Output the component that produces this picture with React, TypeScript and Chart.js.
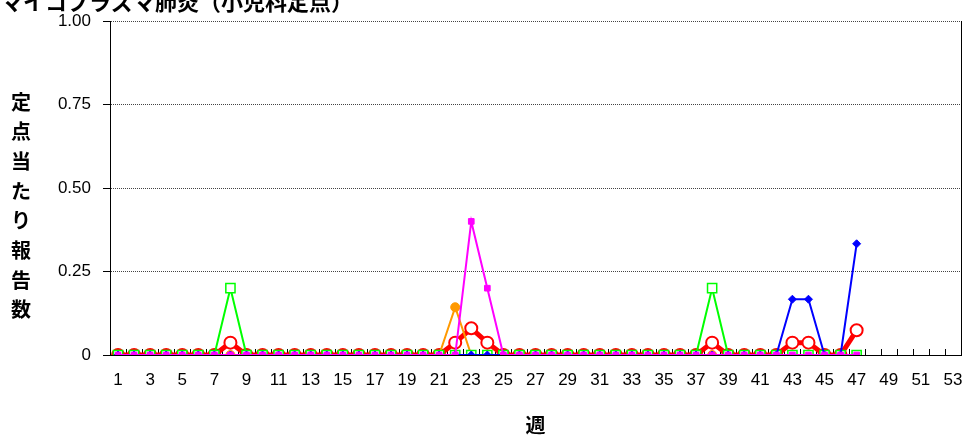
import React, { useEffect, useRef } from 'react';
import { Chart, registerables } from 'chart.js';
Chart.register(...registerables);

const chartTitle = 'マイコプラズマ肺炎（小児科定点）';
const yTitleChars = ['定', '点', '当', 'た', 'り', '報', '告', '数'];
const xTitle = '週';

const weeks = [
  '1', '2', '3', '4', '5', '6', '7', '8', '9', '10',
  '11', '12', '13', '14', '15', '16', '17', '18', '19', '20',
  '21', '22', '23', '24', '25', '26', '27', '28', '29', '30',
  '31', '32', '33', '34', '35', '36', '37', '38', '39', '40',
  '41', '42', '43', '44', '45', '46', '47', '48', '49', '50',
  '51', '52', '53',
];

const yTicks = [0, 0.25, 0.5, 0.75, 1];

// weeks 1..47
const redSeries = [
  0, 0, 0, 0, 0, 0, 0, 0.037, 0, 0,
  0, 0, 0, 0, 0, 0, 0, 0, 0, 0,
  0, 0.037, 0.08, 0.037, 0, 0, 0, 0, 0, 0,
  0, 0, 0, 0, 0, 0, 0, 0.037, 0, 0,
  0, 0, 0.037, 0.037, 0, 0, 0.074,
];
const greenSeries = [
  0, 0, 0, 0, 0, 0, 0, 0.2, 0, 0,
  0, 0, 0, 0, 0, 0, 0, 0, 0, 0,
  0, 0, 0, 0, 0, 0, 0, 0, 0, 0,
  0, 0, 0, 0, 0, 0, 0, 0.2, 0, 0,
  0, 0, 0, 0, 0, 0, 0,
];
const orangeSeries = [
  0, 0, 0, 0, 0, 0, 0, 0, 0, 0,
  0, 0, 0, 0, 0, 0, 0, 0, 0, 0,
  0, 0.143, 0, 0, 0, 0, 0, 0, 0, 0,
  0, 0, 0, 0, 0, 0, 0, 0, 0, 0,
  0, 0, 0, 0, 0, 0, 0,
];
const magentaSeries = [
  0, 0, 0, 0, 0, 0, 0, 0, 0, 0,
  0, 0, 0, 0, 0, 0, 0, 0, 0, 0,
  0, 0, 0.4, 0.2, 0, 0, 0, 0, 0, 0,
  0, 0, 0, 0, 0, 0, 0, 0, 0, 0,
  0, 0, 0, 0, 0, 0, 0,
];
const blueSeries = [
  0, 0, 0, 0, 0, 0, 0, 0, 0, 0,
  0, 0, 0, 0, 0, 0, 0, 0, 0, 0,
  0, 0, 0, 0, 0, 0, 0, 0, 0, 0,
  0, 0, 0, 0, 0, 0, 0, 0, 0, 0,
  0, 0, 0.167, 0.167, 0, 0, 0.333,
];

const JP = '"Noto Sans CJK JP", sans-serif';
const NUM = '"Liberation Sans", Arial, sans-serif';

const decor = {
  id: 'decor',
  beforeDatasetsDraw(chart: any) {
    const { ctx, chartArea: a, scales } = chart;
    const x = scales.x;
    ctx.save();
    ctx.strokeStyle = '#000';
    ctx.lineWidth = 1;
    ctx.setLineDash([]);
    ctx.beginPath();
    for (let i = 0; i <= weeks.length; i++) {
      const px = Math.round(x.getPixelForValue(i - 0.5)) + 0.5;
      ctx.moveTo(px, a.bottom);
      ctx.lineTo(px, a.bottom - 6);
    }
    const r = Math.round(a.right) + 0.5;
    ctx.moveTo(r, a.top);
    ctx.lineTo(r, a.bottom);
    ctx.stroke();
    ctx.restore();
  },
  afterDraw(chart: any) {
    const { ctx, chartArea: a } = chart;
    ctx.save();
    ctx.fillStyle = '#000';
    ctx.font = 'bold 22px ' + JP;
    ctx.textAlign = 'left';
    ctx.textBaseline = 'alphabetic';
    ctx.fillText(chartTitle, 1, 10);

    ctx.font = 'bold 20px ' + JP;
    ctx.textAlign = 'center';
    ctx.textBaseline = 'middle';
    yTitleChars.forEach((c, i) => {
      ctx.fillText(c, 21, 102 + i * 29.7);
    });
    ctx.fillText(xTitle, (a.left + a.right) / 2, 425);
    ctx.restore();
  },
};

export default function App() {
  const ref = useRef<HTMLCanvasElement | null>(null);
  useEffect(() => {
    if (!ref.current) return;
    const chart = new Chart(ref.current, {
      type: 'line',
      data: {
        labels: weeks,
        datasets: [
          {
            data: magentaSeries,
            borderColor: '#FF00FF',
            backgroundColor: '#FF00FF',
            borderWidth: 2,
            pointStyle: 'rect',
            pointRadius: 4,
            pointBorderWidth: 1,
            pointBackgroundColor: '#FF00FF',
            pointBorderColor: '#FF00FF',
          },
          {
            data: blueSeries,
            borderColor: '#0000FF',
            backgroundColor: '#0000FF',
            borderWidth: 2,
            pointStyle: 'rectRot',
            pointRadius: 4,
            pointBorderWidth: 1,
            pointBackgroundColor: '#0000FF',
            pointBorderColor: '#0000FF',
          },
          {
            data: greenSeries,
            borderColor: '#00FF00',
            backgroundColor: '#FFFFFF',
            borderWidth: 2,
            pointStyle: 'rect',
            pointRadius: 6.5,
            pointBorderWidth: 1.5,
            pointBackgroundColor: '#FFFFFF',
            pointBorderColor: '#00FF00',
          },
          {
            data: orangeSeries,
            borderColor: '#FF9900',
            backgroundColor: '#FF9900',
            borderWidth: 2,
            pointStyle: 'circle',
            pointRadius: 4.5,
            pointBorderWidth: 1,
            pointBackgroundColor: '#FF9900',
            pointBorderColor: '#FF9900',
          },
          {
            data: redSeries,
            borderColor: '#FF0000',
            backgroundColor: '#FFFFFF',
            borderWidth: 5,
            pointStyle: 'circle',
            pointRadius: 6,
            pointBorderWidth: 2,
            pointBackgroundColor: '#FFFFFF',
            pointBorderColor: '#FF0000',
          },
        ],
      },
      options: {
        responsive: false,
        animation: false,
        devicePixelRatio: 1,
        layout: { padding: { top: 21, right: 6, left: 0, bottom: 0 } },
        plugins: {
          legend: { display: false },
          tooltip: { enabled: false },
          title: { display: false },
        },
        elements: { line: { tension: 0 } },
        scales: {
          x: {
            type: 'category',
            offset: true,
            grid: { display: true, drawOnChartArea: false, drawTicks: false, offset: true },
            border: { display: true, color: '#000', width: 1 },
            ticks: {
              autoSkip: false,
              maxRotation: 0,
              minRotation: 0,
              padding: 15,
              color: '#000',
              font: { family: NUM, size: 17 },
              callback: (_v: any, i: number) => (i % 2 === 0 ? weeks[i] : ''),
            },
            afterFit: (s: any) => {
              s.height = 84;
              s.paddingLeft = 0;
              s.paddingRight = 0;
            },
          },
          y: {
            min: 0,
            max: 1,
            afterBuildTicks: (s: any) => {
              s.ticks = yTicks.map((v) => ({ value: v }));
            },
            grid: {
              display: true,
              drawOnChartArea: true,
              drawTicks: true,
              tickLength: 7,
              color: (c: any) => (c.tick && c.tick.value === 0 ? 'rgba(0,0,0,0)' : '#444'),
              tickColor: '#000',
              tickBorderDash: [],
            } as any,
            border: { display: true, color: '#000', width: 1, dash: [1, 1] },
            ticks: {
              padding: 12,
              color: '#000',
              font: { family: NUM, size: 17 },
              callback: (v: any) => (v === 0 ? '0' : Number(v).toFixed(2)),
            },
            afterFit: (s: any) => {
              s.width = 110;
              s.paddingTop = 0;
              s.paddingBottom = 0;
            },
          },
        },
      },
      plugins: [decor],
    } as any);
    return () => chart.destroy();
  }, []);
  return (
    <div style={{ position: 'absolute', left: 0, top: 0, width: 969, height: 439, background: '#fff' }}>
      <canvas ref={ref} width={969} height={439} style={{ display: 'block' }} />
    </div>
  );
}
